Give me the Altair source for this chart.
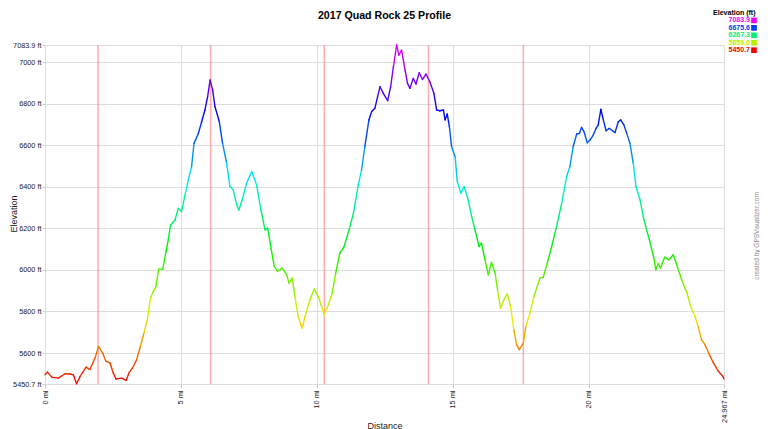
import altair as alt
import pandas as pd

# Profile (distance in miles, elevation in ft)
miles = [0.00, 0.09, 0.25, 0.49, 0.74, 0.92, 1.04, 1.16, 1.29, 1.51, 1.65, 1.84, 1.97, 2.12, 2.24, 2.39,
         2.51, 2.61, 2.82, 2.98, 3.10, 3.22, 3.37, 3.49, 3.64, 3.76, 3.88, 3.98, 4.08, 4.18, 4.33, 4.45,
         4.53, 4.62, 4.78, 4.90, 5.02, 5.15, 5.27, 5.39, 5.48, 5.64, 5.76, 5.88, 5.98, 6.07, 6.16, 6.25,
         6.41, 6.53, 6.68, 6.80, 6.92, 7.05, 7.13, 7.25, 7.41, 7.60, 7.78, 7.94, 8.09, 8.19, 8.31, 8.43,
         8.55, 8.72, 8.89, 8.97, 9.09, 9.19, 9.31, 9.41, 9.46, 9.56, 9.74, 9.90, 10.05, 10.17, 10.27, 10.42,
         10.56, 10.69, 10.84, 11.00, 11.18, 11.34, 11.52, 11.64, 11.76, 11.91, 12.01, 12.13, 12.23, 12.32,
         12.44, 12.60, 12.71, 12.81, 12.93, 13.01, 13.11, 13.24, 13.33, 13.42, 13.54, 13.64, 13.76, 13.88,
         14.01, 14.15, 14.30, 14.40, 14.52, 14.65, 14.71, 14.79, 14.87, 14.95, 15.08, 15.16, 15.29, 15.41,
         15.53, 15.69, 15.81, 15.96, 16.05, 16.18, 16.30, 16.42, 16.55, 16.64, 16.75, 16.87, 17.00, 17.12,
         17.24, 17.34, 17.44, 17.59, 17.68, 17.83, 17.98, 18.20, 18.32, 18.47, 18.63, 18.81, 19.00, 19.18,
         19.30, 19.42, 19.55, 19.65, 19.73, 19.82, 19.94, 20.04, 20.16, 20.26, 20.34, 20.44, 20.53, 20.63,
         20.75, 20.87, 20.96, 21.08, 21.17, 21.29, 21.39, 21.51, 21.63, 21.73, 21.88, 22.00, 22.12, 22.24,
         22.30, 22.39, 22.46, 22.55, 22.63, 22.79, 22.94, 23.10, 23.25, 23.41, 23.53, 23.61, 23.74, 23.90,
         24.02, 24.14, 24.27, 24.43, 24.57, 24.76, 24.92, 24.967]
elev = [5495, 5508, 5484, 5479, 5500, 5499, 5495, 5452, 5487, 5532, 5520, 5576, 5632, 5600, 5560, 5552,
        5504, 5475, 5479, 5468, 5507, 5528, 5568, 5624, 5696, 5760, 5864, 5896, 5921, 6004, 6004, 6089,
        6145, 6217, 6241, 6297, 6281, 6362, 6434, 6498, 6610, 6658, 6714, 6771, 6835, 6915, 6870, 6787,
        6714, 6610, 6514, 6402, 6386, 6313, 6289, 6338, 6418, 6474, 6410, 6289, 6193, 6201, 6105, 6017,
        5993, 6009, 5977, 5937, 5961, 5872, 5776, 5736, 5720, 5776, 5856, 5908, 5872, 5824, 5784, 5832,
        5888, 5985, 6081, 6113, 6193, 6273, 6410, 6482, 6594, 6723, 6763, 6779, 6835, 6883,
        6851, 6816, 6883, 6979, 7083.9, 7035, 7059, 6963, 6899, 6875, 6923, 6896, 6950, 6918,
        6944, 6907, 6851, 6771, 6767, 6771, 6723, 6752, 6690, 6594, 6546, 6426, 6370, 6402,
        6354, 6257, 6193, 6113, 6129, 6049, 5977, 6036, 5985, 5904, 5816, 5856, 5885, 5824,
        5712, 5640, 5616, 5648, 5728, 5792, 5872, 5961, 5965, 6033, 6113, 6209, 6322, 6450,
        6498, 6594, 6655, 6658, 6687, 6666, 6613, 6626, 6650, 6682, 6698, 6774, 6723, 6671,
        6682, 6671, 6662, 6714, 6723, 6698, 6658, 6610, 6514, 6402, 6338, 6257, 6193, 6137,
        6105, 6057, 6001, 6030, 6009, 6062, 6049, 6073, 6017, 5953, 5912, 5888, 5824, 5776,
        5728, 5664, 5640, 5592, 5555, 5512, 5488, 5476]

aid_miles = [1.95, 6.09, 10.27, 14.10, 17.59]

y_ticks = [5450.7, 5600, 5800, 6000, 6200, 6400, 6600, 6800, 7000, 7083.9]
x_ticks = [0, 5, 10, 15, 20, 24.967]

color_stops = [5450.7, 5859.0, 6267.3, 6675.6, 7083.9]
color_range = ["#f00000", "#b4f000", "#00f078", "#003cf0", "#f000f0"]

legend_labels = ["7083.9", "6675.6", "6267.3", "5859.0", "5450.7"]
legend_colors = ["#f000f0", "#003cf0", "#00f078", "#b4f000", "#f00000"]

FONT = "Liberation Sans"
W, H = 679, 339

seg = pd.DataFrame({
    "m": miles[:-1], "m2": miles[1:],
    "e": elev[:-1], "e2": elev[1:],
})
seg["c"] = (seg["e"] + seg["e2"]) / 2

xscale = alt.Scale(domain=[0, 24.967], nice=False, zero=False)
yscale = alt.Scale(domain=[5450.7, 7083.9], nice=False, zero=False)

profile = alt.Chart(seg).mark_rule(strokeWidth=1.4, strokeCap="round").encode(
    x=alt.X("m:Q", scale=xscale, axis=alt.Axis(
        values=x_ticks, labelExpr="datum.value + ' mi'", labelAngle=270,
        labelFont=FONT, labelFontSize=7.4, labelColor="#222", labelPadding=2,
        grid=True, gridColor="#dddddd", domain=False, tickColor="#cccccc", tickSize=4,
        title="Distance", titleFont=FONT, titleFontSize=9, titleFontWeight="normal",
        titleColor="#222", titleX=W / 2, titleY=41, titleBaseline="middle", titleAlign="center")),
    x2="m2:Q",
    y=alt.Y("e:Q", scale=yscale, axis=alt.Axis(
        values=y_ticks, labelExpr="datum.value + ' ft'",
        labelFont=FONT, labelFontSize=7.3, labelColor="#222", labelPadding=1,
        grid=True, gridColor="#dddddd", domain=False, tickColor="#cccccc", tickSize=3,
        title="Elevation", titleFont=FONT, titleFontSize=9, titleFontWeight="normal",
        titleColor="#222", titleX=-32, titleY=H / 2 - 1, titleAngle=270,
        titleBaseline="middle", titleAlign="center")),
    y2="e2:Q",
    color=alt.Color("c:Q", scale=alt.Scale(domain=color_stops, range=color_range,
                                           interpolate="hsl"), legend=None),
)

aid = alt.Chart(pd.DataFrame({"mile": aid_miles})).mark_rule(
    color="#ff7777", strokeWidth=1.5, opacity=0.6
).encode(x=alt.X("mile:Q", scale=xscale))

title = alt.Chart(pd.DataFrame({"t": ["2017 Quad Rock 25 Profile"]})).mark_text(
    font=FONT, fontSize=10.6, fontWeight="bold", color="#000", align="center", baseline="middle"
).encode(text="t:N", x=alt.value(W / 2), y=alt.value(-29.5))

leg_title = alt.Chart(pd.DataFrame({"t": ["Elevation (ft)"]})).mark_text(
    font=FONT, fontSize=7, fontWeight="bold", color="#000", align="right", baseline="middle"
).encode(text="t:N", x=alt.value(710.5), y=alt.value(-32.5))

leg_df = pd.DataFrame({"lab": legend_labels, "col": legend_colors, "i": list(range(5))})

leg_text = alt.Chart(leg_df).transform_calculate(py="-24.6 + datum.i * 7.45").mark_text(
    font=FONT, fontSize=7, fontWeight="bold", align="right", baseline="middle"
).encode(
    text="lab:N", x=alt.value(705),
    y=alt.Y("py:Q", scale=None, axis=None),
    color=alt.Color("col:N", scale=None, legend=None),
)

leg_sq = alt.Chart(leg_df).transform_calculate(py="-24.6 + datum.i * 7.45").mark_square(
    size=32, opacity=1, filled=True
).encode(
    x=alt.value(709),
    y=alt.Y("py:Q", scale=None, axis=None),
    color=alt.Color("col:N", scale=None, legend=None),
)

credit = alt.Chart(pd.DataFrame({"t": ["created by GPSVisualizer.com"]})).mark_text(
    font=FONT, fontSize=6.5, color="#888", align="center", baseline="middle", angle=270
).encode(text="t:N", x=alt.value(712), y=alt.value(191))

chart = alt.layer(aid, profile, title, leg_title, leg_text, leg_sq, credit).resolve_scale(
    y="independent", color="independent"
).properties(
    width=W, height=H,
    autosize=alt.AutoSizeParams(type="none"),
    padding={"left": 37, "top": 37, "right": 36, "bottom": 45},
    background="white",
).configure_view(stroke=None)

chart.save("out.html", embed_options={"renderer": "svg", "actions": False})
